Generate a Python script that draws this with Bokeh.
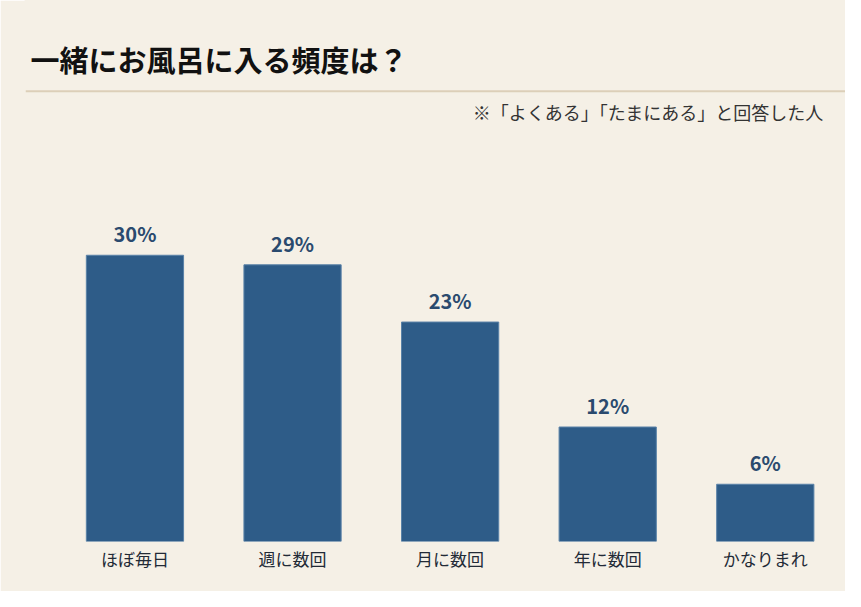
from bokeh.plotting import figure
from bokeh.models import ColumnDataSource, FixedTicker, Span, Label
from bokeh.core.properties import value
from bokeh.embed import file_html
from bokeh.resources import INLINE

categories = ["ほぼ毎日", "週に数回", "月に数回", "年に数回", "かなりまれ"]
values = [30, 29, 23, 12, 6]
labels = ["30%", "29%", "23%", "12%", "6%"]

title_text = "一緒にお風呂に入る頻度は？"
note_text = "※「よくある」「たまにある」と回答した人"

BG = "#f5f0e6"
BAR = "#2e5c88"
FONT = "Noto Sans CJK JP"

xs = list(range(len(categories)))
source = ColumnDataSource(dict(x=xs, top=values, label=labels))

p = figure(width=845, height=591, output_backend="svg", toolbar_location=None,
           x_range=(-0.6946, 4.509), y_range=(0, 56.7),
           min_border_left=25, min_border_right=0, min_border_top=0, min_border_bottom=50)
p.background_fill_color = BG
p.border_fill_color = BG
# cover the faint seam between frame and border
p.outline_line_color = BG
p.outline_line_width = 2
p.grid.grid_line_color = None
p.yaxis.visible = False

p.vbar(x="x", top="top", width=0.617, bottom=0, source=source,
       fill_color=BAR, line_color="#5a82a8", line_width=1)

p.text(x="x", y="top", text="label", source=source, text_align="center",
       text_baseline="bottom", y_offset=-7, text_font=value(FONT), text_font_style="bold",
       text_font_size="20px", text_color="#2a4a6e")

xa = p.xaxis[0]
xa.ticker = FixedTicker(ticks=xs)
xa.major_label_overrides = {i: c for i, c in enumerate(categories)}
xa.axis_line_color = None
xa.major_tick_line_color = None
xa.minor_tick_line_color = None
xa.major_tick_in = 0
xa.major_tick_out = 0
xa.major_label_standoff = 4
xa.major_label_text_font = FONT
xa.major_label_text_font_size = "17px"
xa.major_label_text_color = "#222a36"

p.add_layout(Span(location=47.2, dimension="width", line_color="#dccfb8", line_width=2))

p.add_layout(Label(x=-0.6635, y=50.6, text=title_text, text_font=FONT,
                   text_font_style="bold", text_font_size="29px", text_color="#111111",
                   text_baseline="middle", text_align="left"))
p.add_layout(Label(x=4.371, y=44.97, text=note_text, text_font=FONT,
                   text_font_size="18px", text_color="#333333",
                   text_baseline="middle", text_align="right"))

open("out.html", "w").write(file_html(p, INLINE))
